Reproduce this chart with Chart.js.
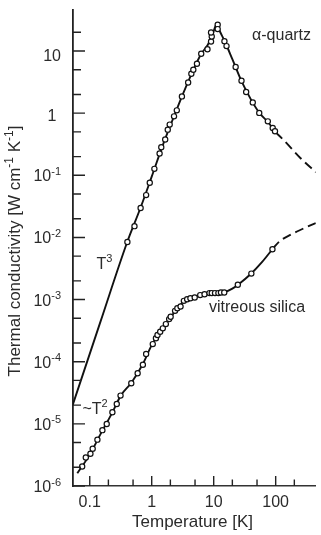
<!DOCTYPE html>
<html>
<head>
<meta charset="utf-8">
<script src="https://cdn.jsdelivr.net/npm/chart.js@4/dist/chart.umd.min.js"></script>
<style>
  html, body { margin: 0; padding: 0; background: #fff; }
  canvas { display: block; }
</style>
</head>
<body>
<canvas id="chart" width="321" height="535"></canvas>
<script>
// axis ranges (K, W cm-1 K-1)
const T_MIN = 0.0537, T_MAX = 444;
const K_MIN = 1e-6, K_MAX = 45.7;

const X_MAJOR = [0.1, 1, 10, 100];
const X_MINOR = [0.2, 0.5, 2, 5, 20, 50, 200];
const X_LABELS = ["0.1", "1", "10", "100"];

const Y_MAJOR = [1e-6, 1e-5, 1e-4, 1e-3, 1e-2, 1e-1, 1, 10];
const Y_MINOR = [2e-6, 5e-6, 2e-5, 5e-5, 2e-4, 5e-4, 2e-3, 5e-3, 2e-2, 5e-2, 0.2, 0.5, 2, 5, 20];
const Y_LABELS = [["10", "-6"], ["10", "-5"], ["10", "-4"], ["10", "-3"], ["10", "-2"], ["10", "-1"], ["1", ""], ["10", ""]];

// alpha-quartz: drawn curve
const quartzCurveT = [0.053, 0.15, 0.4, 0.66, 1.0, 1.5, 2.3, 3.1, 4.4, 6.3, 8.0, 9.5, 11.2, 12.5, 15, 20, 28, 40, 55, 75, 100];
const quartzCurveK = [2.0e-5, 4.5e-4, 8.3e-3, 0.030, 0.095, 0.30, 0.90, 1.9, 4.3, 9.0, 12.5, 18, 27, 21, 14.5, 7.4, 3.3, 1.65, 1.0, 0.72, 0.49];
const quartzDashT = [100, 132, 250, 444];
const quartzDashK = [0.49, 0.376, 0.19, 0.112];
// alpha-quartz: measured points
const quartzPtT = [0.405, 0.527, 0.662, 0.812, 0.93, 1.104, 1.34, 1.426, 1.65, 1.815, 1.95, 2.29, 2.54, 3.07, 3.87, 4.36, 4.69, 5.37, 6.29, 7.94, 9.06, 9.3, 9.06, 11.6, 11.6, 14.9, 16.1, 22.6, 28.1, 33.4, 42.7, 54.3, 74.7, 89.6, 97.5];
const quartzPtK = [0.00844, 0.0152, 0.0298, 0.048, 0.0758, 0.127, 0.224, 0.283, 0.376, 0.543, 0.654, 0.889, 1.11, 1.86, 3.12, 4.31, 4.99, 6.24, 9.02, 10.7, 14.2, 17.1, 19.8, 26.4, 22.5, 14.4, 12.0, 5.52, 3.32, 2.19, 1.49, 1.01, 0.738, 0.578, 0.51];

// vitreous silica: drawn curve
const silicaCurveT = [0.063, 0.1, 0.15, 0.23, 0.32, 0.47, 0.72, 1.0, 1.5, 2.0, 2.6, 3.3, 4.2, 6, 8.5, 12, 15, 20, 25, 40, 60, 90];
const silicaCurveK = [1.6e-6, 3.2e-6, 6.9e-6, 1.5e-5, 2.9e-5, 4.6e-5, 9.2e-5, 1.85e-4, 3.4e-4, 5.1e-4, 7.2e-4, 9.4e-4, 1.05e-3, 1.17e-3, 1.26e-3, 1.29e-3, 1.32e-3, 1.5e-3, 1.75e-3, 2.6e-3, 4.0e-3, 6.6e-3];
const silicaDashT = [90, 117, 179, 275, 444];
const silicaDashK = [6.6e-3, 8.75e-3, 0.0112, 0.0138, 0.017];
// vitreous silica: measured points
const silicaPtT = [0.0755, 0.0864, 0.1026, 0.1116, 0.133, 0.160, 0.188, 0.232, 0.273, 0.314, 0.468, 0.593, 0.720, 0.812, 1.04, 1.17, 1.24, 1.37, 1.51, 1.69, 1.91, 2.02, 2.38, 2.59, 2.92, 3.30, 3.73, 4.21, 4.94, 6.06, 7.12, 8.55, 9.3, 10.5, 11.9, 13.1, 14.8, 24.5, 40.5, 88.7];
const silicaPtK = [2.06e-6, 2.88e-6, 3.30e-6, 3.97e-6, 5.57e-6, 7.92e-6, 9.93e-6, 1.54e-5, 2.09e-5, 2.85e-5, 4.50e-5, 6.51e-5, 8.92e-5, 1.33e-4, 1.92e-4, 2.38e-4, 2.69e-4, 3.03e-4, 3.44e-4, 4.03e-4, 4.85e-4, 5.28e-4, 6.59e-4, 7.28e-4, 7.75e-4, 9.54e-4, 1.01e-3, 1.05e-3, 1.08e-3, 1.18e-3, 1.22e-3, 1.27e-3, 1.27e-3, 1.27e-3, 1.27e-3, 1.30e-3, 1.30e-3, 1.73e-3, 2.62e-3, 6.44e-3];

const INK = "#111";
const TEXT = "#2b2b2b";
const FONT = "Liberation Sans, Arial, sans-serif";

const pts = (xs, ys) => xs.map((x, i) => ({ x, y: ys[i] }));

const markers = (xs, ys) => ({
  data: pts(xs, ys),
  showLine: false,
  pointRadius: 2.6,
  pointBackgroundColor: "#fff",
  pointBorderColor: INK,
  pointBorderWidth: 1.2,
});
const curve = (xs, ys, dash) => ({
  data: pts(xs, ys),
  borderColor: INK,
  borderWidth: 1.9,
  borderDash: dash || [],
  pointRadius: 0,
  cubicInterpolationMode: "monotone",
  fill: false,
});

// text with a raised exponent; align: "right" | "center" | "left"
function supText(ctx, x, y, base, sup, size, align) {
  ctx.font = size + "px " + FONT;
  const wb = ctx.measureText(base).width;
  ctx.font = Math.round(size * 0.7) + "px " + FONT;
  const ws = sup ? ctx.measureText(sup).width : 0;
  const w = wb + ws;
  let x0 = align === "right" ? x - w : align === "center" ? x - w / 2 : x;
  ctx.font = size + "px " + FONT;
  ctx.fillText(base, x0, y);
  if (sup) {
    ctx.font = Math.round(size * 0.7) + "px " + FONT;
    ctx.fillText(sup, x0 + wb, y - size * 0.4);
  }
}

const decor = {
  id: "decor",
  afterDraw(chart) {
    const { ctx, chartArea: a, scales: { x, y } } = chart;
    ctx.save();
    ctx.strokeStyle = "#222";
    ctx.lineWidth = 1.4;
    ctx.beginPath();
    X_MAJOR.forEach((v) => { const p = x.getPixelForValue(v); ctx.moveTo(p, a.bottom); ctx.lineTo(p, a.bottom - 10); });
    X_MINOR.forEach((v) => { const p = x.getPixelForValue(v); ctx.moveTo(p, a.bottom); ctx.lineTo(p, a.bottom - 6.5); });
    Y_MAJOR.forEach((v) => { const p = y.getPixelForValue(v); ctx.moveTo(a.left, p); ctx.lineTo(a.left + 12, p); });
    Y_MINOR.forEach((v) => { const p = y.getPixelForValue(v); ctx.moveTo(a.left, p); ctx.lineTo(a.left + 8, p); });
    ctx.stroke();

    ctx.fillStyle = TEXT;
    ctx.textBaseline = "alphabetic";
    ctx.textAlign = "left";
    X_MAJOR.forEach((v, i) => supText(ctx, x.getPixelForValue(v), 507, X_LABELS[i], "", 16, "center"));
    Y_MAJOR.forEach((v, i) => {
      const [b, s] = Y_LABELS[i];
      const p = y.getPixelForValue(v);
      if (b === "1") supText(ctx, 52, p + 8, b, s, 16, "center");
      else if (!s) supText(ctx, 61, p + 10, b, s, 16, "right");
      else supText(ctx, 61, p + 6, b, s, 16, "right");
    });

    // axis titles
    supText(ctx, 192.5, 526.5, "Temperature [K]", "", 17, "center");
    ctx.save();
    ctx.translate(19.5, 251);
    ctx.rotate(-Math.PI / 2);
    const parts = [["Thermal conductivity [W cm", "-1"], [" K", "-1"], ["]", ""]];
    const TS = 17;
    const sw = (b, s) => {
      ctx.font = TS + "px " + FONT; let w = ctx.measureText(b).width;
      ctx.font = Math.round(TS * 0.7) + "px " + FONT; w += s ? ctx.measureText(s).width : 0;
      return w;
    };
    const total = parts.reduce((t, [b, s]) => t + sw(b, s), 0);
    let cx = -total / 2;
    parts.forEach(([b, s]) => {
      const w = sw(b, s);
      supText(ctx, cx, 0, b, s, TS, "left");
      cx += w;
    });
    ctx.restore();

    // annotations
    supText(ctx, 252, 39.5, "\u03b1-quartz", "", 16, "left");
    supText(ctx, 209, 311.5, "vitreous silica", "", 16, "left");
    supText(ctx, 96.5, 268.5, "T", "3", 16, "left");
    supText(ctx, 82.5, 413.5, "~T", "2", 16, "left");
    ctx.restore();
  },
};

new Chart(document.getElementById("chart"), {
  type: "line",
  data: {
    datasets: [
      markers(quartzPtT, quartzPtK),
      markers(silicaPtT, silicaPtK),
      curve(quartzCurveT, quartzCurveK),
      curve(quartzDashT, quartzDashK, [9, 5]),
      curve(silicaCurveT, silicaCurveK),
      curve(silicaDashT, silicaDashK, [9, 5]),
    ],
  },
  options: {
    responsive: false,
    animation: false,
    devicePixelRatio: 1,
    layout: { padding: { top: 10, right: 0, left: 0, bottom: 0 } },
    plugins: { legend: { display: false }, tooltip: { enabled: false } },
    scales: {
      x: {
        type: "logarithmic",
        min: T_MIN,
        max: T_MAX,
        ticks: { display: false },
        grid: { display: false },
        border: { display: true, color: "#333", width: 1.5 },
        afterFit: (s) => { s.height = 49; },
      },
      y: {
        type: "logarithmic",
        min: K_MIN,
        max: K_MAX,
        ticks: { display: false },
        grid: { display: false },
        border: { display: true, color: "#222", width: 1.8 },
        afterFit: (s) => { s.width = 73; },
      },
    },
  },
  plugins: [decor],
});
</script>
</body>
</html>
